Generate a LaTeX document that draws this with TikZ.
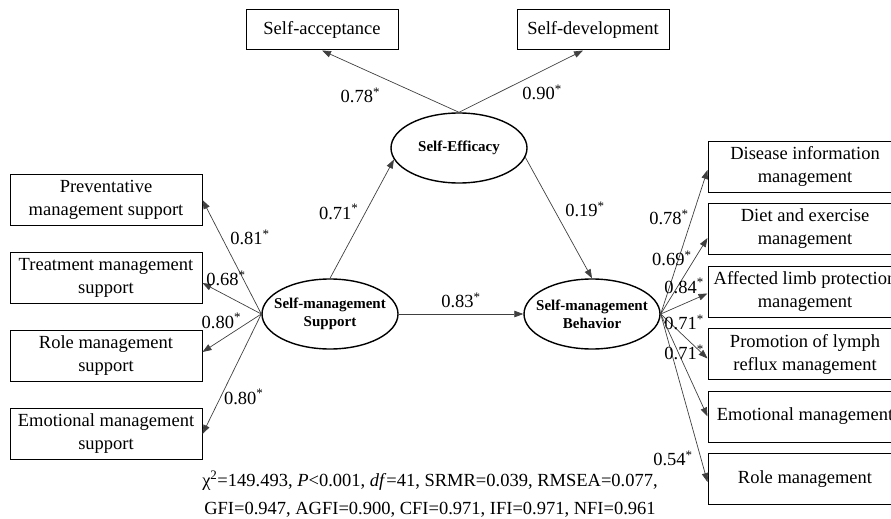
\documentclass[tikz,border=0pt]{standalone}
\usepackage{fontspec}
\setmainfont{Liberation Serif}
\usetikzlibrary{shapes.geometric, arrows.meta, positioning}

\begin{document}
\begin{tikzpicture}[x=1pt, y=-1pt, node distance=10.5pt,
  every node/.style={font=\fontsize{18.5}{23}\selectfont},
  ind/.style={draw, rectangle, line width=1pt, minimum width=192pt, minimum height=51pt, align=center, inner sep=2pt},
  lat/.style={draw, ellipse, line width=1.4pt, minimum width=136pt, minimum height=70pt, inner xsep=-10pt, align=center, font=\fontsize{15}{18}\selectfont\bfseries},
  load/.style={draw=black!75, line width=0.7pt, -{Triangle[length=9pt, width=6.5pt]}},
  coef/.style={inner sep=3pt}]
\useasboundingbox (0,0) rectangle (891,519);

\node (sup) [lat] at (330,314) {Self-management\\Support};
\node (beh) [lat] at (592,314) {Self-management\\Behavior};
\node (eff) [lat] at (459,148) {Self-Efficacy};

\node (acc) [ind, minimum width=152pt, minimum height=40pt] at (322,30) {Self-acceptance};
\node (dev) [ind, minimum width=152pt, minimum height=40pt] at (593,30) {Self-development};

\node (prev) [ind] at (106,200) {Preventative\\management support};
\node (treat) [ind, below=26pt of prev] {Treatment management\\support};
\node (role) [ind, below=26pt of treat] {Role management\\support};
\node (emo) [ind, below=26pt of role] {Emotional management\\support};

\node (dis) [ind, minimum width=194pt] at (805,166.5) {Disease information\\management};
\node (diet) [ind, minimum width=194pt, below=of dis] {Diet and exercise\\management};
\node (limb) [ind, minimum width=194pt, below=of diet] {Affected limb protection\\management};
\node (lymph) [ind, minimum width=194pt, below=of limb] {Promotion of lymph\\reflux management};
\node (emman) [ind, minimum width=194pt, below=of lymph] {Emotional management};
\node (rolman) [ind, minimum width=194pt, below=of emman] {Role management};

\node (stats) [align=center, font=\fontsize{18.5}{28}\selectfont] at (430,494) {χ\textsuperscript{2}=149.493, \textit{P}<0.001, \textit{df}=41, SRMR=0.039, RMSEA=0.077,\\GFI=0.947, AGFI=0.900, CFI=0.971, IFI=0.971, NFI=0.961};

\draw[load] (eff.north) -- node[coef, pos=.72, below=17pt] {0.78\textsuperscript{*}} (acc.south);
\draw[load] (eff.north) -- node[coef, pos=.67, below=11pt] {0.90\textsuperscript{*}} ([xshift=-10pt]dev.south);
\draw[load] (sup.north) -- node[coef, pos=.56, left=4pt] {0.71\textsuperscript{*}} (eff.190);
\draw[load] (eff.-8) -- node[coef, pos=.43, right=8pt] {0.19\textsuperscript{*}} (beh.north);
\draw[load] (sup) -- node[coef, above=3pt] {0.83\textsuperscript{*}} (beh);

\draw[load] (sup.west) -- node[coef, pos=.67, right=5pt] {0.81\textsuperscript{*}} (prev.east);
\draw[load] (sup.west) -- node[coef, pos=.6, above=6pt] {0.68\textsuperscript{*}} ([yshift=-5pt]treat.east);
\draw[load] (sup.west) -- node[coef, pos=.68, above=8pt] {0.80\textsuperscript{*}} ([yshift=4pt]role.east);
\draw[load] (sup.west) -- node[coef, pos=.69, right] {0.80\textsuperscript{*}} (emo.east);

\draw[load] (beh.east) -- node[coef, pos=.67, left] {0.78\textsuperscript{*}} ([yshift=-3.5pt]dis.west);
\draw[load] (beh.east) -- node[coef, pos=.73, left] {0.69\textsuperscript{*}} ([yshift=-9pt]diet.west);
\draw[load] (beh.east) -- node[coef, pos=.5, above=7pt] {0.84\textsuperscript{*}} ([yshift=-2pt]limb.west);
\draw[load] (beh.east) -- node[coef, pos=.5, above=3pt] {0.71\textsuperscript{*}} ([yshift=-4.5pt]lymph.west);
\draw[load] (beh.east) -- node[coef, pos=.5, above=2pt] {0.71\textsuperscript{*}} (emman.west);
\draw[load] (beh.east) -- node[coef, pos=.86, left=5pt] {0.54\textsuperscript{*}} ([yshift=-3pt]rolman.west);
\end{tikzpicture}
\end{document}
